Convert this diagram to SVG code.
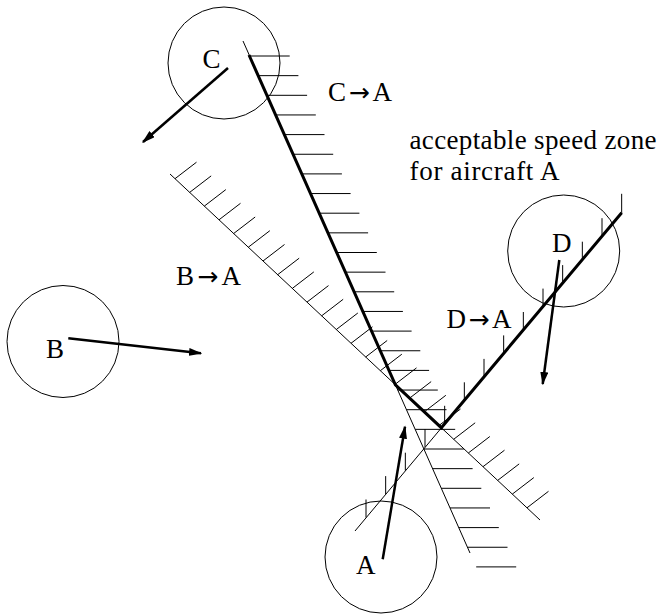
<svg xmlns="http://www.w3.org/2000/svg" width="660" height="614" viewBox="0 0 660 614">
<style>
.bg{fill:#fff}
.circ{fill:none;stroke:#000;stroke-width:1}
.thin{fill:none;stroke:#000;stroke-width:1}
.hatch{fill:none;stroke:#000;stroke-width:1}
.bold{fill:none;stroke:#000;stroke-width:3;stroke-linejoin:miter}
.vec{fill:none;stroke:#000;stroke-width:2.5}
text{font-family:"Liberation Serif","Times New Roman",serif;font-size:27px;fill:#000}
.arr{font-family:"DejaVu Sans",sans-serif;font-size:25px}
</style>
<defs>
<marker id="ah" viewBox="0 0 10 6" markerWidth="5.4" markerHeight="3.2" refX="9" refY="3" orient="auto" markerUnits="strokeWidth">
<path d="M0,0 L10,3 L0,6 z" fill="#000"/>
</marker>
</defs>
<rect class="bg" x="0" y="0" width="660" height="614"/>
<g id="connectors">
<g id="line-CA">
<path class="thin" d="M243,41 L470,553"/>
<path class="hatch" d="M249.7,56h40M258.4,75.65h40M267.1,95.3h40M275.8,114.95h40M284.5,134.6h40M293.2,154.25h40M301.9,173.9h40M310.6,193.55h40M319.4,213.2h40M328.1,232.85h40M336.8,252.5h40M345.5,272.15h40M354.2,291.8h40M362.9,311.45h40M371.6,331.1h40M380.3,350.75h40M389.1,370.4h40M397.8,390.05h40M406.5,409.7h40M415.2,429.35h40M423.9,449h40M432.6,468.65h40M441.3,488.3h40M450,507.95h40M458.8,527.6h40M467.5,547.25h40M476.2,566.9h40"/>
</g>
<g id="line-BA">
<path class="thin" d="M170,174 L540,520"/>
<path class="hatch" d="M175,178.7l21.5,-16.5M189.67,192.4l21.5,-16.5M204.33,206.1l21.5,-16.5M219,219.8l21.5,-16.5M233.67,233.5l21.5,-16.5M248.33,247.2l21.5,-16.5M263,261l21.5,-16.5M277.67,274.7l21.5,-16.5M292.33,288.4l21.5,-16.5M307,302.1l21.5,-16.5M321.67,315.8l21.5,-16.5M336.33,329.5l21.5,-16.5M351,343.3l21.5,-16.5M365.67,357l21.5,-16.5M380.33,370.7l21.5,-16.5M395,384.4l21.5,-16.5M409.67,398.1l21.5,-16.5M424.33,411.8l21.5,-16.5M439,425.5l21.5,-16.5M453.67,439.3l21.5,-16.5M468.33,453l21.5,-16.5M483,466.7l21.5,-16.5M497.67,480.4l21.5,-16.5M512.33,494.1l21.5,-16.5M527,507.8l21.5,-16.5"/>
</g>
<g id="line-DA">
<path class="thin" d="M355,531 L621.7,212.7"/>
<path class="hatch" d="M366,517.5v-18M385.67,494.1v-18M405.33,470.7v-18M425,447.2v-18M444.67,423.8v-18M464.33,400.3v-18M484,376.9v-18M503.67,353.4v-18M523.33,330v-18M543,306.6v-18M562.67,283.1v-18M582.33,259.7v-18M602,236.2v-18M621.67,212.8v-19"/>
</g>
<path id="zone-boundary" class="bold" d="M249,55 L395.4,384.8 L441.3,427.7 L621.7,212.7"/>
<g id="velocity-vectors">
<path class="vec" d="M382.7,559.3 L405,426.7" marker-end="url(#ah)"/>
<path class="vec" d="M68.3,338.3 L201,353.3" marker-end="url(#ah)"/>
<path class="vec" d="M228,68 L143,142" marker-end="url(#ah)"/>
<path class="vec" d="M559.3,260 L542.7,384" marker-end="url(#ah)"/>
</g>
</g>
<g id="node-A">
<circle class="circ" cx="381" cy="557" r="56"/>
<text x="356" y="574">A</text>
</g>
<g id="node-B">
<circle class="circ" cx="63" cy="341.5" r="56"/>
<text x="46" y="358">B</text>
</g>
<g id="node-C">
<circle class="circ" cx="224" cy="63" r="56"/>
<text x="202.5" y="68">C</text>
</g>
<g id="node-D">
<circle class="circ" cx="563.7" cy="251" r="56"/>
<text x="552" y="251.7">D</text>
</g>
<g id="labels">
<text x="328" y="101" textLength="64" lengthAdjust="spacing">C<tspan class="arr">→</tspan>A</text>
<text x="176" y="285" textLength="65" lengthAdjust="spacing">B<tspan class="arr">→</tspan>A</text>
<text x="446.5" y="328" textLength="65" lengthAdjust="spacing">D<tspan class="arr">→</tspan>A</text>
<text x="409.5" y="149" textLength="247" lengthAdjust="spacing">acceptable speed zone</text>
<text x="409.5" y="180" textLength="150" lengthAdjust="spacing">for aircraft A</text>
</g>
</svg>
